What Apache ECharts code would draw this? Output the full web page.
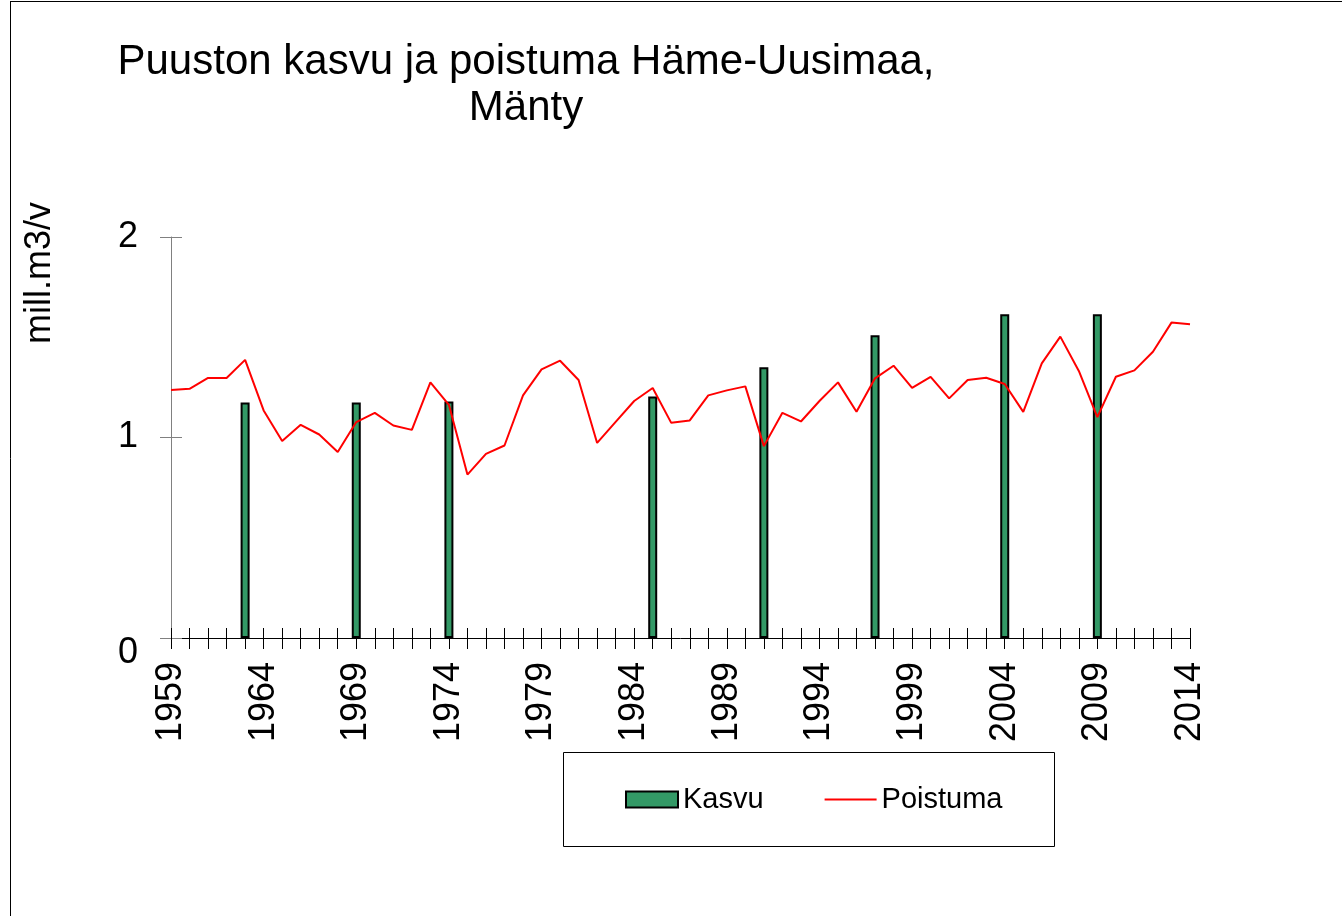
<!DOCTYPE html>
<html>
<head>
<meta charset="utf-8">
<script src="https://cdn.jsdelivr.net/npm/echarts@6/dist/echarts.min.js"></script>
<style>
  html, body { margin: 0; padding: 0; background: #fff; }
  #chart { width: 1342px; height: 916px; }
</style>
</head>
<body>
<div id="chart"></div>
<script>
const years = [
  '1959', '1960', '1961', '1962', '1963', '1964', '1965', '1966', '1967', '1968',
  '1969', '1970', '1971', '1972', '1973', '1974', '1975', '1976', '1977', '1978',
  '1979', '1980', '1981', '1982', '1983', '1984', '1985', '1986', '1987', '1988',
  '1989', '1990', '1991', '1992', '1993', '1994', '1995', '1996', '1997', '1998',
  '1999', '2000', '2001', '2002', '2003', '2004', '2005', '2006', '2007', '2008',
  '2009', '2010', '2011', '2012', '2013', '2014'
];

// Kasvu (growth) – only measured in inventory years
const kasvuYears = ['1963', '1969', '1974', '1985', '1991', '1997', '2004', '2009'];
const kasvuValues = [1.175, 1.175, 1.18, 1.205, 1.35, 1.51, 1.615, 1.615];

// Poistuma (drain), one value per year
const poistuma = [
  1.237, 1.243, 1.297, 1.297, 1.387, 1.135, 0.983, 1.063, 1.015, 0.928,
  1.077, 1.123, 1.06, 1.038, 1.275, 1.163, 0.815, 0.918, 0.96, 1.21,
  1.34, 1.383, 1.287, 0.973, 1.078, 1.182, 1.247, 1.073, 1.085, 1.21,
  1.235, 1.255, 0.957, 1.123, 1.08, 1.182, 1.275, 1.128, 1.295, 1.358,
  1.247, 1.302, 1.195, 1.287, 1.298, 1.267, 1.128, 1.37, 1.503, 1.332,
  1.102, 1.303, 1.335, 1.428, 1.573, 1.565
];

const yTicks = [0, 1, 2];

const FONT = '"Liberation Sans", Arial, sans-serif';

const chart = echarts.init(document.getElementById('chart'));

chart.setOption({
  animation: false,
  backgroundColor: '#fff',
  title: {
    text: 'Puuston kasvu ja poistuma Häme-Uusimaa,\nMänty',
    left: 521,
    top: 34,
    textAlign: 'center',
    textStyle: {
      fontFamily: FONT, fontSize: 42, fontWeight: 'normal',
      color: '#000', lineHeight: 46
    }
  },
  grid: { left: 171, right: 152, top: 237, bottom: 278, containLabel: false },
  legend: {
    left: 625,
    top: 785,
    padding: 0,
    itemWidth: 52,
    itemHeight: 16,
    itemGap: 61,
    textStyle: { fontFamily: FONT, fontSize: 29, color: '#000' },
    data: [
      { name: 'Kasvu', icon: 'rect' },
      { name: 'Poistuma', icon: 'path://M0,0L52,0L52,2L0,2Z' }
    ]
  },
  xAxis: [
    {
      type: 'category',
      data: years,
      boundaryGap: false,
      position: 'bottom',
      axisLine: { show: true, lineStyle: { color: '#000', width: 1 } },
      axisTick: { show: true, interval: 0, length: 11, lineStyle: { color: '#000' } },
      axisLabel: {
        interval: 4, rotate: 90, margin: 24,
        fontFamily: FONT, fontSize: 36, color: '#000'
      },
      splitLine: { show: false }
    },
    {
      type: 'category',
      data: years,
      boundaryGap: false,
      position: 'bottom',
      axisLine: { show: false },
      axisTick: { show: true, inside: true, interval: 0, length: 10, lineStyle: { color: '#000' } },
      axisLabel: { show: false },
      splitLine: { show: false }
    }
  ],
  yAxis: [
    {
      type: 'value',
      min: yTicks[0],
      max: yTicks[yTicks.length - 1],
      interval: 1,
      axisLine: { show: true, lineStyle: { color: '#808080', width: 1 } },
      axisTick: { show: true, length: 11, lineStyle: { color: '#808080' } },
      axisLabel: {
        margin: 33,
        fontFamily: FONT, fontSize: 36, color: '#000',
        formatter: v => (v === 0 ? '{z|0}' : String(v)),
        rich: { z: { fontFamily: FONT, fontSize: 36, color: '#000', padding: [30, 0, 0, 0] } }
      },
      splitLine: { show: false }
    },
    {
      type: 'value',
      position: 'left',
      min: yTicks[0],
      max: yTicks[yTicks.length - 1],
      interval: 1,
      axisLine: { show: false },
      axisTick: { show: true, inside: true, length: 11, lineStyle: { color: '#808080' } },
      axisLabel: { show: false },
      splitLine: { show: false }
    }
  ],
  graphic: [
    // outer frame
    { type: 'line', shape: { x1: 10, y1: 1.5, x2: 1342, y2: 1.5 }, style: { stroke: '#000', lineWidth: 1 } },
    { type: 'line', shape: { x1: 10.5, y1: 1, x2: 10.5, y2: 916 }, style: { stroke: '#000', lineWidth: 1 } },
    // legend box
    { type: 'rect', shape: { x: 563.5, y: 752.5, width: 491, height: 94 }, style: { fill: 'none', stroke: '#000', lineWidth: 1 }, z: -1 },
    // y axis name
    {
      type: 'text', x: 40, y: 273, rotation: Math.PI / 2,
      style: { text: 'mill.m3/v', font: '36px ' + FONT, fill: '#000', align: 'center', verticalAlign: 'middle' }
    }
  ],
  series: [
    {
      name: 'Kasvu',
      type: 'bar',
      barWidth: 9,
      itemStyle: { color: '#339966', borderColor: '#000', borderWidth: 2 },
      data: kasvuYears.map((y, i) => [y, kasvuValues[i]])
    },
    {
      name: 'Poistuma',
      type: 'line',
      symbol: 'none',
      lineStyle: { color: '#ff0000', width: 2 },
      itemStyle: { color: '#ff0000' },
      data: poistuma
    }
  ]
});
</script>
</body>
</html>
